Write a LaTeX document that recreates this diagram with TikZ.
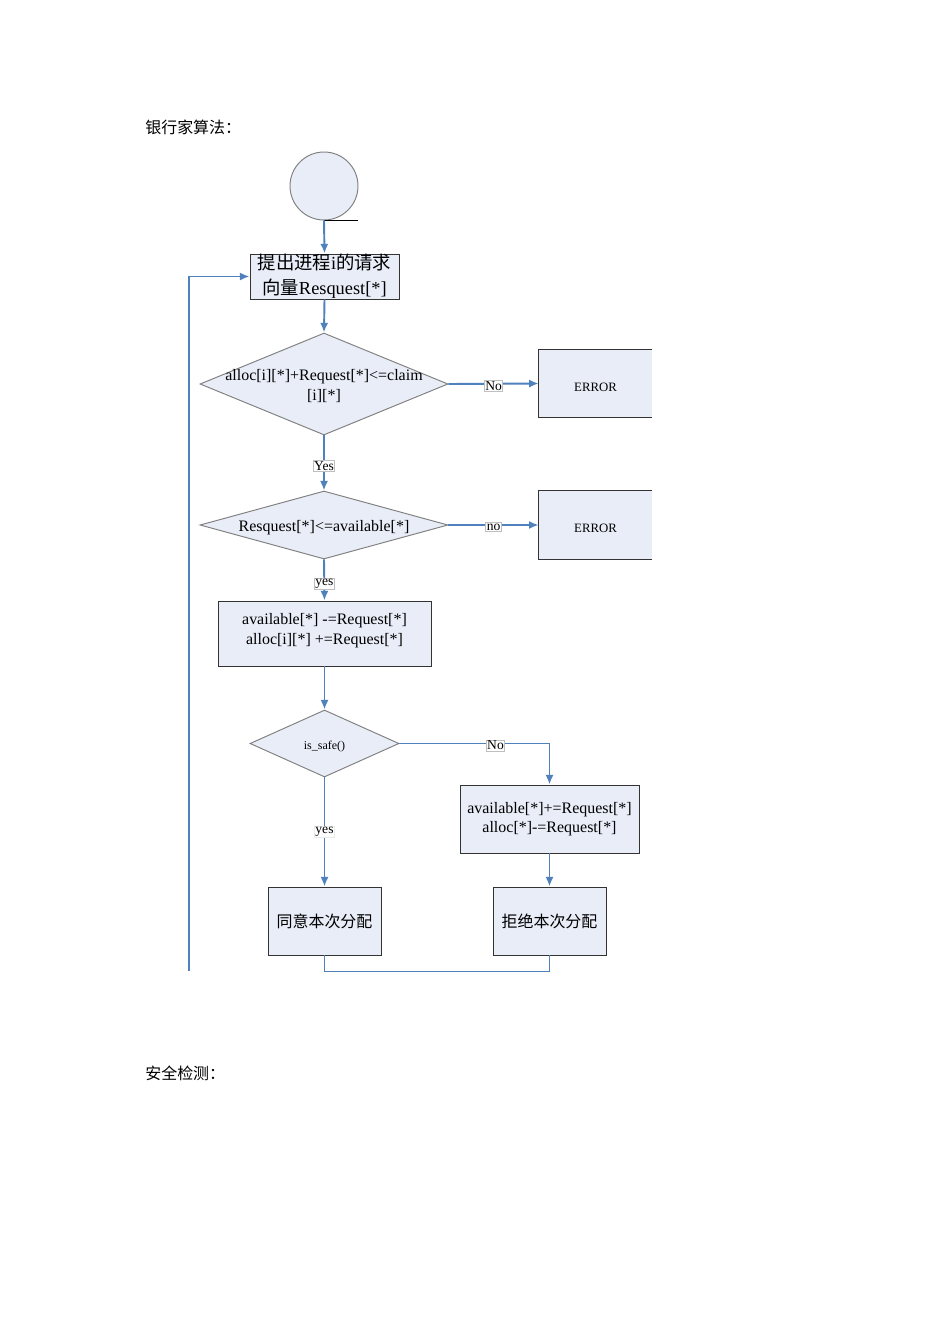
\documentclass[tikz,border=0pt]{standalone}
\usepackage{fontspec}
\setmainfont{Liberation Serif}
\newfontfamily\cjk{Noto Sans CJK SC}
\usetikzlibrary{shapes.geometric,arrows.meta}
\definecolor{flowblue}{RGB}{79,129,189}
\definecolor{boxfill}{RGB}{233,237,248}
\newlength{\pxu}
\setlength{\pxu}{0.626pt}
\newcommand{\fs}[2]{\fontsize{#1}{#2}\selectfont}

\begin{document}
\begin{tikzpicture}[x=0.626pt, y=-0.626pt,
            box/.style = {draw=black!80, fill=boxfill, line width=0.6pt, inner sep=0pt, align=center, font=\fs{10pt}{12.2pt}},
            dia/.style = {draw=black!50, fill=boxfill, diamond, inner sep=0pt, line width=0.6pt},
            errbox/.style = {fill=boxfill, inner sep=0pt, font=\fs{8pt}{10pt}, text height=15\pxu, text depth=0pt},
            flow/.style = {draw=flowblue, line width=1.2pt, -{Latex[length=6pt,width=5pt]}},
            link/.style = {draw=flowblue, line width=1.2pt},
            tag/.style = {draw=black!25, fill=white, inner sep=0.6pt, line width=0.5pt, font=\fs{8.5pt}{9pt}}]
                \fill[white] (0,0) rectangle (950,1344);
                \useasboundingbox (0,0) rectangle (950,1344);

                \node[anchor=west, inner sep=0pt, font=\fs{10pt}{12pt}] (head) at (145,127) {\cjk 银行家算法：};

                \node[draw=black!50, fill=boxfill, circle, minimum size=68\pxu, inner sep=0pt, line width=0.6pt] (start) at (324,186) {};
                \draw[black, line width=0.6pt] (start.south) -- ++(34,0);

                \node[box, minimum width=149\pxu, minimum height=45\pxu, font=\fs{11.5pt}{15.5pt}] (req) at (324.5,276.5) {{\cjk 提出进程}i{\cjk 的请求}\\{\cjk 向量}Resquest[*]};

                \node[dia, minimum width=248\pxu, minimum height=102\pxu] (claim) at (324,384) {};
                \node[align=center, inner sep=0pt, font=\fs{10pt}{12pt}] (claimtext) at (324,386) {alloc[i][*]+Request[*]<=claim\\ {}[i][*]};
                \node[errbox, minimum width=113\pxu, minimum height=67\pxu] (err1) at (595.5,383.5) {ERROR};
                \draw[black!80, line width=0.6pt] (err1.north east) -- (err1.north west) -- (err1.south west) -- (err1.south east);

                \node[dia, minimum width=248\pxu, minimum height=68\pxu] (avail) at (324,525) {};
                \node[inner sep=0pt, font=\fs{10pt}{12pt}] (availtext) at (324,527.5) {Resquest[*]<=available[*]};
                \node[errbox, minimum width=113\pxu, minimum height=68\pxu] (err2) at (595.5,525) {ERROR};
                \draw[black!80, line width=0.6pt] (err2.north east) -- (err2.north west) -- (err2.south west) -- (err2.south east);

                \node[box, minimum width=213\pxu, minimum height=65\pxu, text depth=9\pxu] (grant) at (324.5,633.5) {available[*] -=Request[*]\\alloc[i][*] +=Request[*]};

                \node[dia, minimum width=149\pxu, minimum height=67\pxu] (safe) at (324.5,743.5) {};
                \node[inner sep=0pt, font=\fs{7.5pt}{9pt}] (safetext) at (324.5,747) {is\_safe()};

                \node[box, minimum width=179\pxu, minimum height=68\pxu] (undo) at (549.5,819) {available[*]+=Request[*]\\alloc[*]-=Request[*]};
                \node[box, minimum width=113\pxu, minimum height=68\pxu] (agree) at (324.5,921) {\cjk 同意本次分配};
                \node[box, minimum width=113\pxu, minimum height=68\pxu] (refuse) at (549.5,921) {\cjk 拒绝本次分配};

                \node[anchor=west, inner sep=0pt, font=\fs{10pt}{12pt}] (tail) at (145,1073) {\cjk 安全检测：};

                \coordinate (loopend) at (189,971);

                \draw[flow] (start.south) -- (req.north);
                \draw[flow] (req.south) -- (claim.north);
                \draw[flow] (claim.east) -- node[tag, yshift=-2\pxu]{No} (err1.west);
                \draw[flow] (claim.south) -- node[tag, pos=0.55]{Yes} (avail.north);
                \draw[flow] (avail.east) -- node[tag, yshift=-2\pxu]{no} (err2.west);
                \draw[flow] (avail.south) -- node[tag, pos=0.6]{yes} (grant.north);
                \draw[flow] (grant.south) -- (safe.north);
                \draw[flow] (safe.east) -| node[tag, pos=0.32, yshift=-2\pxu]{No} (undo.north);
                \draw[flow] (safe.south) -- node[tag, draw=black!8]{yes} (agree.north);
                \draw[flow] (undo.south) -- (refuse.north);
                \draw[link] (agree.south) -- ++(0,16) -| (refuse.south);
                \draw[flow] (loopend) |- (req.west);
        \end{tikzpicture}
\end{document}
